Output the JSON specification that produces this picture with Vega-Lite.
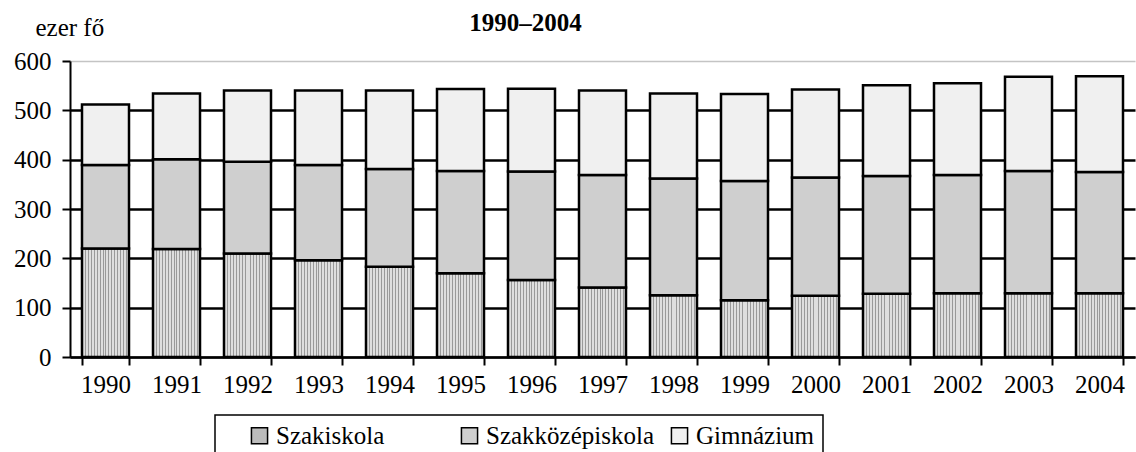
{
"$schema":"https://vega.github.io/schema/vega-lite/v6.json",
"width":1065,"height":296,
"autosize":{"type":"none"},
"padding":{"left":70,"top":61,"right":1,"bottom":95},
"background":"white",
"title":{"text":"1990–2004","font":"'Liberation Serif'","fontSize":25,"fontWeight":"bold","color":"black","anchor":"middle","dx":-77,"offset":-41,"baseline":"alphabetic"},
"data":{"values":[
{"ev":"1990","tipus":"Szakiskola","ertek":220,"o":1},{"ev":"1990","tipus":"Szakközépiskola","ertek":169,"o":2},{"ev":"1990","tipus":"Gimnázium","ertek":123,"o":3},
{"ev":"1991","tipus":"Szakiskola","ertek":219,"o":1},{"ev":"1991","tipus":"Szakközépiskola","ertek":182,"o":2},{"ev":"1991","tipus":"Gimnázium","ertek":133,"o":3},
{"ev":"1992","tipus":"Szakiskola","ertek":210,"o":1},{"ev":"1992","tipus":"Szakközépiskola","ertek":186,"o":2},{"ev":"1992","tipus":"Gimnázium","ertek":144,"o":3},
{"ev":"1993","tipus":"Szakiskola","ertek":196,"o":1},{"ev":"1993","tipus":"Szakközépiskola","ertek":193,"o":2},{"ev":"1993","tipus":"Gimnázium","ertek":151,"o":3},
{"ev":"1994","tipus":"Szakiskola","ertek":183,"o":1},{"ev":"1994","tipus":"Szakközépiskola","ertek":198,"o":2},{"ev":"1994","tipus":"Gimnázium","ertek":159,"o":3},
{"ev":"1995","tipus":"Szakiskola","ertek":170,"o":1},{"ev":"1995","tipus":"Szakközépiskola","ertek":207,"o":2},{"ev":"1995","tipus":"Gimnázium","ertek":166,"o":3},
{"ev":"1996","tipus":"Szakiskola","ertek":156,"o":1},{"ev":"1996","tipus":"Szakközépiskola","ertek":220,"o":2},{"ev":"1996","tipus":"Gimnázium","ertek":168,"o":3},
{"ev":"1997","tipus":"Szakiskola","ertek":141,"o":1},{"ev":"1997","tipus":"Szakközépiskola","ertek":228,"o":2},{"ev":"1997","tipus":"Gimnázium","ertek":171,"o":3},
{"ev":"1998","tipus":"Szakiskola","ertek":125,"o":1},{"ev":"1998","tipus":"Szakközépiskola","ertek":237,"o":2},{"ev":"1998","tipus":"Gimnázium","ertek":172,"o":3},
{"ev":"1999","tipus":"Szakiskola","ertek":115,"o":1},{"ev":"1999","tipus":"Szakközépiskola","ertek":242,"o":2},{"ev":"1999","tipus":"Gimnázium","ertek":176,"o":3},
{"ev":"2000","tipus":"Szakiskola","ertek":124,"o":1},{"ev":"2000","tipus":"Szakközépiskola","ertek":240,"o":2},{"ev":"2000","tipus":"Gimnázium","ertek":178,"o":3},
{"ev":"2001","tipus":"Szakiskola","ertek":128,"o":1},{"ev":"2001","tipus":"Szakközépiskola","ertek":239,"o":2},{"ev":"2001","tipus":"Gimnázium","ertek":184,"o":3},
{"ev":"2002","tipus":"Szakiskola","ertek":129,"o":1},{"ev":"2002","tipus":"Szakközépiskola","ertek":240,"o":2},{"ev":"2002","tipus":"Gimnázium","ertek":186,"o":3},
{"ev":"2003","tipus":"Szakiskola","ertek":129,"o":1},{"ev":"2003","tipus":"Szakközépiskola","ertek":248,"o":2},{"ev":"2003","tipus":"Gimnázium","ertek":191,"o":3},
{"ev":"2004","tipus":"Szakiskola","ertek":129,"o":1},{"ev":"2004","tipus":"Szakközépiskola","ertek":246,"o":2},{"ev":"2004","tipus":"Gimnázium","ertek":194,"o":3}
]},
"mark":{"type":"bar","stroke":"black","strokeWidth":2.5},
"encoding":{
"x":{"field":"ev","type":"ordinal","scale":{"paddingInner":0.338,"paddingOuter":0.169},
"axis":{"title":null,"labelAngle":0,"tickBand":"extent","tickSize":8,"tickWidth":2,"tickColor":"black","domainColor":"black","domainWidth":2,"labelFont":"'Liberation Serif'","labelFontSize":25,"labelColor":"black","labelPadding":7,"grid":false}},
"y":{"field":"ertek","type":"quantitative","stack":"zero","scale":{"domain":[0,600],"nice":false},
"axis":{"values":[0,100,200,300,400,500,600],"tickSize":8,"tickWidth":2,"tickColor":"black","domainColor":"black","domainWidth":2,
"gridColor":{"condition":{"test":"datum.value == 600","value":"#c4c4c4"},"value":"black"},
"gridWidth":{"condition":{"test":"datum.value == 600","value":1.5},"value":2.5},
"labelFont":"'Liberation Serif'","labelFontSize":25,"labelColor":"black","labelPadding":11,
"title":"ezer fő","titleAngle":0,"titleX":-35,"titleY":-26,"titleAlign":"left","titleBaseline":"alphabetic","titleFont":"'Liberation Serif'","titleFontSize":25,"titleFontWeight":"normal","titleColor":"black"}},
"color":{"field":"tipus","type":"nominal","scale":{"domain":["Szakiskola","Szakközépiskola","Gimnázium"],"range":["#bcbcbc","#cfcfcf","#f0f0f0"]},
"condition":{"test":"datum.tipus === 'Szakiskola'","value":{"gradient":"linear","x1":0,"y1":0,"x2":1,"y2":0,"stops":[
{"offset":0,"color":"#999999"},{"offset":0.0208,"color":"#999999"},{"offset":0.0208,"color":"#dedede"},{"offset":0.0625,"color":"#dedede"},
{"offset":0.0625,"color":"#999999"},{"offset":0.0833,"color":"#999999"},{"offset":0.0833,"color":"#dedede"},{"offset":0.125,"color":"#dedede"},
{"offset":0.125,"color":"#999999"},{"offset":0.1458,"color":"#999999"},{"offset":0.1458,"color":"#dedede"},{"offset":0.1875,"color":"#dedede"},
{"offset":0.1875,"color":"#999999"},{"offset":0.2083,"color":"#999999"},{"offset":0.2083,"color":"#dedede"},{"offset":0.25,"color":"#dedede"},
{"offset":0.25,"color":"#999999"},{"offset":0.2708,"color":"#999999"},{"offset":0.2708,"color":"#dedede"},{"offset":0.3125,"color":"#dedede"},
{"offset":0.3125,"color":"#999999"},{"offset":0.3333,"color":"#999999"},{"offset":0.3333,"color":"#dedede"},{"offset":0.375,"color":"#dedede"},
{"offset":0.375,"color":"#999999"},{"offset":0.3958,"color":"#999999"},{"offset":0.3958,"color":"#dedede"},{"offset":0.4375,"color":"#dedede"},
{"offset":0.4375,"color":"#999999"},{"offset":0.4583,"color":"#999999"},{"offset":0.4583,"color":"#dedede"},{"offset":0.5,"color":"#dedede"},
{"offset":0.5,"color":"#999999"},{"offset":0.5208,"color":"#999999"},{"offset":0.5208,"color":"#dedede"},{"offset":0.5625,"color":"#dedede"},
{"offset":0.5625,"color":"#999999"},{"offset":0.5833,"color":"#999999"},{"offset":0.5833,"color":"#dedede"},{"offset":0.625,"color":"#dedede"},
{"offset":0.625,"color":"#999999"},{"offset":0.6458,"color":"#999999"},{"offset":0.6458,"color":"#dedede"},{"offset":0.6875,"color":"#dedede"},
{"offset":0.6875,"color":"#999999"},{"offset":0.7083,"color":"#999999"},{"offset":0.7083,"color":"#dedede"},{"offset":0.75,"color":"#dedede"},
{"offset":0.75,"color":"#999999"},{"offset":0.7708,"color":"#999999"},{"offset":0.7708,"color":"#dedede"},{"offset":0.8125,"color":"#dedede"},
{"offset":0.8125,"color":"#999999"},{"offset":0.8333,"color":"#999999"},{"offset":0.8333,"color":"#dedede"},{"offset":0.875,"color":"#dedede"},
{"offset":0.875,"color":"#999999"},{"offset":0.8958,"color":"#999999"},{"offset":0.8958,"color":"#dedede"},{"offset":0.9375,"color":"#dedede"},
{"offset":0.9375,"color":"#999999"},{"offset":0.9583,"color":"#999999"},{"offset":0.9583,"color":"#dedede"},{"offset":1,"color":"#dedede"}
]}},
"legend":{"orient":"none","legendX":145,"legendY":354,"direction":"horizontal","gridAlign":"all","columnPadding":12,
"title":" ","titleOrient":"left","titleFontSize":10,"titlePadding":24,
"symbolType":"square","symbolSize":260,"symbolStrokeColor":"black","symbolStrokeWidth":1.5,"symbolOpacity":1,
"labelFont":"'Liberation Serif'","labelFontSize":25,"labelColor":"black","labelOffset":4,"labelLimit":300,
"strokeColor":"black","padding":8}},
"order":{"field":"o","type":"quantitative"}
},
"config":{"view":{"stroke":null},"legend":{"strokeWidth":1.5}}
}
